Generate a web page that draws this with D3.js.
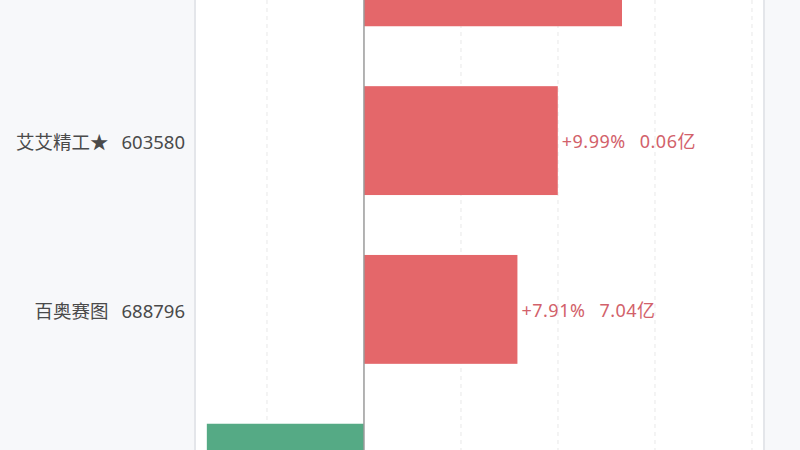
<!DOCTYPE html>
<html>
<head>
<meta charset="utf-8">
<script src="https://cdn.jsdelivr.net/npm/d3@7"></script>
<style>
  html, body { margin: 0; padding: 0; background: #f7f8fa; }
  svg { display: block; }
</style>
</head>
<body>
<svg id="chart"></svg>
<script>
// rows of the visible slice (first and last rows are cut by the frame)
const names = ['', '艾艾精工★', '百奥赛图', ''];
const codes = ['', '603580', '688796', ''];
const changes = [13.3, 9.99, 7.91, -8.1];
const amounts = ['', '0.06亿', '7.04亿', ''];
const ticks = [-5, 0, 5, 10, 15, 20];

(function() {
  'use strict';

  const width = 800, height = 450;
  const plotLeft = 195, plotRight = 764;
  const font = '"Noto Sans", "Noto Sans CJK SC", sans-serif';

  const svg = d3.select('#chart').attr('width', width).attr('height', height);

  const rows = names.map((n, i) => ({
    name: n, code: codes[i], change: changes[i], amount: amounts[i]
  }));

  const x = d3.scaleLinear()
    .domain([-8.71, 20.62])
    .range([plotLeft, plotRight]);

  const y = d3.scaleBand()
    .domain(d3.range(rows.length))
    .range([-113, 563])
    .paddingInner(0.355)
    .paddingOuter(0.18);

  // white plot panel
  svg.append('rect')
    .attr('x', plotLeft)
    .attr('y', 0)
    .attr('width', plotRight - plotLeft)
    .attr('height', height)
    .attr('fill', '#fff');

  [plotLeft, plotRight].forEach(px => {
    svg.append('line')
      .attr('x1', px).attr('x2', px)
      .attr('y1', 0).attr('y2', height)
      .attr('stroke', '#e4e6ea').attr('stroke-width', 2);
  });

  // dashed grid
  svg.append('g')
    .selectAll('line')
    .data(ticks.filter(t => t !== 0))
    .enter()
    .append('line')
    .attr('x1', d => x(d)).attr('x2', d => x(d))
    .attr('y1', 0).attr('y2', height)
    .attr('stroke', '#e8e8e8')
    .attr('stroke-width', 1)
    .attr('stroke-dasharray', '4,4');

  const barColor = d => d.change >= 0 ? '#e4676a' : '#55aa85';
  const textColor = d => d.change >= 0 ? '#d2616a' : '#3f9a72';

  svg.append('g')
    .selectAll('rect')
    .data(rows)
    .enter()
    .append('rect')
    .attr('x', d => x(Math.min(0, d.change)))
    .attr('y', (d, i) => y(i))
    .attr('width', d => Math.abs(x(d.change) - x(0)))
    .attr('height', y.bandwidth())
    .attr('fill', barColor);

  // zero line
  svg.append('line')
    .attr('x1', x(0)).attr('x2', x(0))
    .attr('y1', 0).attr('y2', height)
    .attr('stroke', '#9a9a9a')
    .attr('stroke-width', 1.5);

  // category labels
  const cat = svg.append('g')
    .selectAll('text')
    .data(rows.filter(d => d.name))
    .enter()
    .append('text')
    .attr('x', 185)
    .attr('y', d => y(rows.indexOf(d)) + y.bandwidth() / 2)
    .attr('dy', '0.45em')
    .attr('text-anchor', 'end')
    .style('font-family', font)
    .style('font-size', '18.5px')
    .style('fill', '#4a4a4a');
  cat.append('tspan').text(d => d.name);
  cat.append('tspan').attr('dx', 13).text(d => d.code);

  // value labels
  const val = svg.append('g')
    .selectAll('text')
    .data(rows.filter(d => d.amount))
    .enter()
    .append('text')
    .attr('x', d => d.change >= 0 ? x(d.change) + 4 : x(d.change) - 4)
    .attr('y', d => y(rows.indexOf(d)) + y.bandwidth() / 2)
    .attr('dy', '0.42em')
    .attr('text-anchor', d => d.change >= 0 ? 'start' : 'end')
    .style('font-family', font)
    .style('font-size', '18px')
    .style('letter-spacing', '0.5px')
    .style('fill', textColor);
  val.append('tspan').text(d => (d.change >= 0 ? '+' : '') + d.change.toFixed(2) + '%');
  val.append('tspan').attr('dx', 14).text(d => d.amount);
})();
</script>
</body>
</html>
